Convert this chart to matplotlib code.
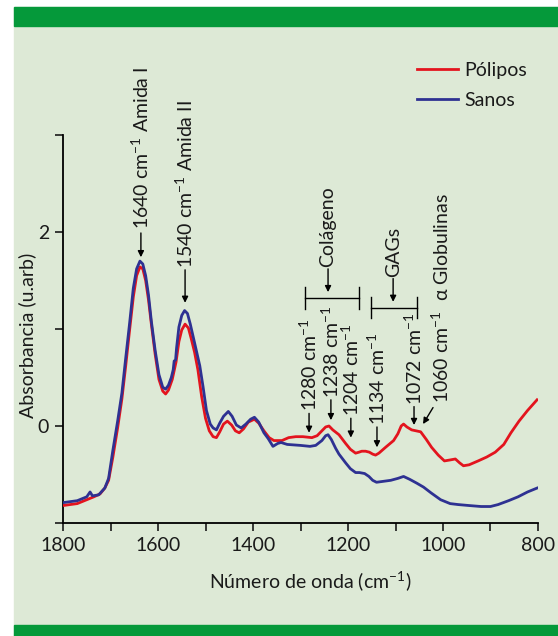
import matplotlib
matplotlib.use("Agg")
import matplotlib.pyplot as plt
from matplotlib.patches import Rectangle

plt.rcParams['font.family'] = ['Lato', 'DejaVu Sans']
plt.rcParams['mathtext.default'] = 'regular'

# espectro FTIR - Sanos (azul)
wn_sanos = [1800, 1770, 1750, 1743, 1738, 1725, 1712, 1704, 1695, 1685, 1676, 1668,
            1660, 1652, 1645, 1638, 1632, 1626, 1620, 1614, 1606, 1598, 1590, 1584,
            1578, 1572, 1568, 1566, 1563, 1561, 1556, 1550, 1544, 1538, 1532, 1525,
            1518, 1512, 1505, 1498, 1490, 1484, 1477, 1470, 1462, 1452, 1444, 1435,
            1425, 1415, 1405, 1397, 1388, 1377, 1368, 1358, 1348, 1341, 1328, 1300,
            1280, 1268, 1255, 1247, 1242, 1235, 1226, 1219, 1205, 1195, 1184, 1176,
            1165, 1156, 1148, 1140, 1125, 1110, 1095, 1083, 1070, 1055, 1041, 1025,
            1005, 985, 968, 945, 920, 900, 884, 862, 842, 822, 802]
abs_sanos = [-0.79, -0.77, -0.73, -0.68, -0.72, -0.71, -0.64, -0.54, -0.25, 0.05, 0.34, 0.70,
             1.05, 1.42, 1.62, 1.70, 1.67, 1.55, 1.35, 1.08, 0.78, 0.53, 0.40, 0.38,
             0.42, 0.50, 0.58, 0.67, 0.68, 0.80, 1.02, 1.14, 1.19, 1.16, 1.05, 0.90,
             0.75, 0.62, 0.40, 0.16, 0.02, -0.02, -0.04, 0.03, 0.10, 0.15, 0.10, 0.01,
             -0.02, 0.02, 0.07, 0.09, 0.04, -0.07, -0.13, -0.21, -0.18, -0.17, -0.19, -0.20,
             -0.21, -0.20, -0.15, -0.10, -0.09, -0.14, -0.23, -0.29, -0.38, -0.44, -0.48, -0.48,
             -0.49, -0.52, -0.56, -0.58, -0.57, -0.56, -0.54, -0.52, -0.55, -0.59, -0.63, -0.69,
             -0.76, -0.80, -0.81, -0.82, -0.83, -0.83, -0.81, -0.77, -0.73, -0.68, -0.64]

# espectro FTIR - Pólipos (rojo)
wn_polipos = [1800, 1770, 1750, 1735, 1722, 1712, 1704, 1695, 1685, 1676, 1668, 1660,
              1652, 1645, 1638, 1632, 1626, 1620, 1614, 1606, 1598, 1590, 1584, 1578,
              1570, 1562, 1556, 1550, 1543, 1536, 1530, 1523, 1516, 1508, 1500, 1492,
              1484, 1477, 1470, 1462, 1454, 1445, 1437, 1429, 1420, 1410, 1397, 1388,
              1377, 1366, 1356, 1339, 1325, 1310, 1295, 1276, 1265, 1255, 1247, 1240,
              1232, 1219, 1205, 1195, 1184, 1177, 1171, 1163, 1155, 1148, 1142, 1135,
              1121, 1104, 1095, 1088, 1083, 1076, 1066, 1047, 1035, 1024, 1010, 997,
              985, 974, 965, 957, 945, 926, 908, 890, 872, 857, 840, 822, 802]
abs_polipos = [-0.82, -0.80, -0.76, -0.73, -0.70, -0.64, -0.56, -0.32, -0.02, 0.28, 0.62, 0.98,
               1.33, 1.55, 1.64, 1.62, 1.50, 1.30, 1.05, 0.74, 0.48, 0.36, 0.33, 0.37,
               0.48, 0.66, 0.87, 0.99, 1.05, 1.01, 0.90, 0.76, 0.58, 0.30, 0.08, -0.05,
               -0.11, -0.12, -0.06, 0.02, 0.05, 0.01, -0.05, -0.07, -0.03, 0.04, 0.07, 0.03,
               -0.05, -0.12, -0.15, -0.15, -0.12, -0.11, -0.11, -0.12, -0.10, -0.05, -0.01, 0.0,
               -0.04, -0.09, -0.18, -0.24, -0.28, -0.27, -0.26, -0.26, -0.27, -0.29, -0.30, -0.28,
               -0.22, -0.15, -0.08, 0.0, 0.02, -0.01, -0.04, -0.06, -0.14, -0.22, -0.30, -0.36,
               -0.35, -0.34, -0.38, -0.41, -0.40, -0.36, -0.32, -0.27, -0.19, -0.07, 0.05, 0.16, 0.27]

# etiquetas de bandas: (texto, x, punta, cola, base del texto)
bandas = [
    ("1640 cm$^{-1}$ Amida I", 1636, 1.74, 1.99, 2.03),
    ("1540 cm$^{-1}$ Amida II", 1543, 1.27, 1.61, 1.63),
    ("1280 cm$^{-1}$", 1282, -0.07, 0.13, 0.15),
    ("1238 cm$^{-1}$", 1236, 0.06, 0.27, 0.29),
    ("1204 cm$^{-1}$", 1194, -0.12, 0.08, 0.10),
    ("1134 cm$^{-1}$", 1139, -0.22, -0.01, 0.01),
    ("1072 cm$^{-1}$", 1061, 0.01, 0.20, 0.22),
]
grupos = [("Colágeno", 1242, 1291, 1177, 1.32), ("GAGs", 1105, 1152, 1055, 1.22)]

rojo = '#E3141E'
azul = '#2E3192'
fondo = '#DDE9D6'
verde = '#05993A'

fig = plt.figure(figsize=(5.58, 6.36), dpi=100, facecolor='white')
fig.patches.append(Rectangle((14/558, 0), 1 - 14/558, 1 - 7/636, transform=fig.transFigure,
                             color=fondo, zorder=-10))
fig.patches.append(Rectangle((14/558, 1 - 26/636), 1 - 14/558, 19/636, transform=fig.transFigure,
                             color=verde, zorder=-9))
fig.patches.append(Rectangle((14/558, 0), 1 - 14/558, 11/636, transform=fig.transFigure,
                             color=verde, zorder=-9))

ax = fig.add_axes([63/558, 1 - 523/636, 475/558, 388/636])
ax.set_facecolor('none')

ax.plot(wn_polipos, abs_polipos, color=rojo, lw=2.0, label='Pólipos', zorder=3)
ax.plot(wn_sanos, abs_sanos, color=azul, lw=2.0, label='Sanos', zorder=4)

ax.set_xlim(1800, 800)
ax.set_ylim(-1, 3)
ax.set_xticks([1800, 1700, 1600, 1500, 1400, 1300, 1200, 1100, 1000, 900, 800])
ax.set_xticklabels(['1800', '', '1600', '', '1400', '', '1200', '', '1000', '', '800'])
ax.set_yticks([-1, 0, 1, 2, 3])
ax.set_yticklabels(['', '0', '', '2', ''])
for s in ['top', 'right']:
    ax.spines[s].set_visible(False)
for s in ['left', 'bottom']:
    ax.spines[s].set_linewidth(1.3)
ax.tick_params(axis='both', direction='out', length=6, width=1.2, labelsize=14,
               colors='#1a1a1a', pad=4)

for txt, x, punta, cola, base in bandas:
    ax.annotate('', xy=(x, punta), xytext=(x, cola),
                arrowprops=dict(arrowstyle='-|>', color='black', lw=1.0,
                                mutation_scale=9, shrinkA=0, shrinkB=0))
    ax.text(x, base, txt, rotation=90, ha='center', va='bottom', fontsize=14, color='#1a1a1a')

# 1060 cm-1 alfa globulinas (flecha inclinada)
ax.annotate('', xy=(1042, 0.02), xytext=(1021, 0.19),
            arrowprops=dict(arrowstyle='-|>', color='black', lw=1.0,
                            mutation_scale=9, shrinkA=0, shrinkB=0))
ax.text(1004, 0.24, "1060 cm$^{-1}$  α Globulinas", rotation=90, ha='center', va='bottom',
        fontsize=14, color='#1a1a1a')

for txt, x, x0, x1, yb in grupos:
    ax.plot([x0, x1], [yb, yb], color='black', lw=1.0, clip_on=False)
    ax.plot([x0, x0], [yb - 0.11, yb + 0.11], color='black', lw=1.0, clip_on=False)
    ax.plot([x1, x1], [yb - 0.11, yb + 0.11], color='black', lw=1.0, clip_on=False)
    ax.annotate('', xy=(x, yb + 0.06), xytext=(x, yb + 0.30),
                arrowprops=dict(arrowstyle='-|>', color='black', lw=1.0,
                                mutation_scale=9, shrinkA=0, shrinkB=0))
    ax.text(x, yb + 0.32, txt, rotation=90, ha='center', va='bottom', fontsize=14, color='#1a1a1a')

fig.text(310/558, 1 - 581/636, "Número de onda (cm$^{-1}$)", ha='center', va='center',
         fontsize=14, color='#1a1a1a')
fig.text(27/558, 1 - 335/636, "Absorbancia (u.arb)", rotation=90, ha='center', va='center',
         fontsize=14, color='#1a1a1a')

ax.legend(loc='upper left', bbox_to_anchor=(417/558, 1 - 62/636), bbox_transform=fig.transFigure,
          frameon=False, fontsize=14, handlelength=2.1, handletextpad=0.35,
          labelspacing=0.65, borderpad=0, borderaxespad=0, labelcolor='#1a1a1a')

fig.savefig('out.png', dpi=100, facecolor='white')
